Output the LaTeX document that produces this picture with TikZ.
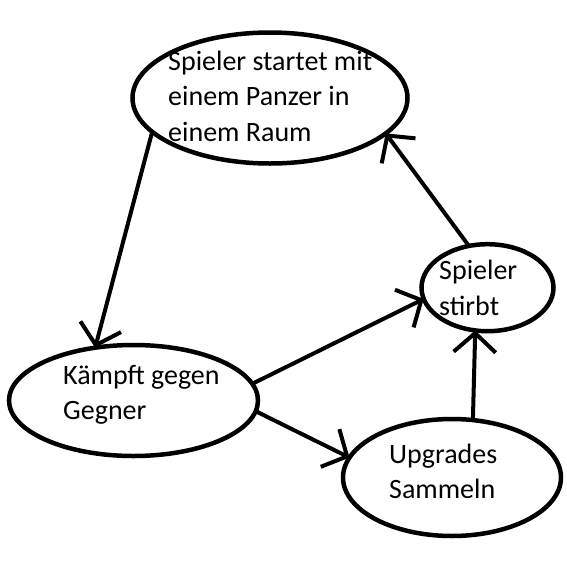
\documentclass[tikz,border=0pt]{standalone}
\usepackage{fontspec}
\setmainfont{Carlito}
\usetikzlibrary{shapes.geometric,arrows.meta}
\begin{document}
\begin{tikzpicture}[x=1pt,y=-1pt,
  bubble/.style={draw, ellipse, line width=4.5pt, inner sep=0pt, outer sep=0pt},
  txt/.style={anchor=base west, inner sep=0pt, font=\fontsize{28}{35.5}\selectfont},
  conn/.style={line width=4pt, -{Straight Barb[length=19pt,width=42pt,line width=4pt]}}]
\useasboundingbox (0,0) rectangle (567,571);
\node[bubble, minimum width=275pt, minimum height=131pt] (start) at (270,98) {};
\node[bubble, minimum width=132pt, minimum height=87pt] (dies) at (487.5,287.7) {};
\node[bubble, minimum width=249pt, minimum height=111pt] (fight) at (133.5,400.5) {};
\node[bubble, minimum width=218pt, minimum height=117pt] (upg) at (452,477.5) {};

\node[txt] (tstart) at (168,70) {\begin{tabular}[t]{@{}l@{}}Spieler startet mit\\einem Panzer in\\einem Raum\end{tabular}};
\node[txt] (tdies) at (439,279.5) {\begin{tabular}[t]{@{}l@{}}Spieler\\stirbt\end{tabular}};
\node[txt] (tfight) at (63,384) {\begin{tabular}[t]{@{}l@{}}Kämpft gegen\\Gegner\end{tabular}};
\node[txt] (tupg) at (389,463) {\begin{tabular}[t]{@{}l@{}}Upgrades\\Sammeln\end{tabular}};

\draw[conn] (start.196) -- (fight.126.8);
\draw[conn] (fight.8.2) -- (dies.190.9);
\draw[conn] (fight.-5.8) -- (upg.169.4);
\draw[conn] (upg.70.6) -- (dies.254.2);
\draw[conn] (dies.114.6) -- (start.343.4);
\end{tikzpicture}
\end{document}
